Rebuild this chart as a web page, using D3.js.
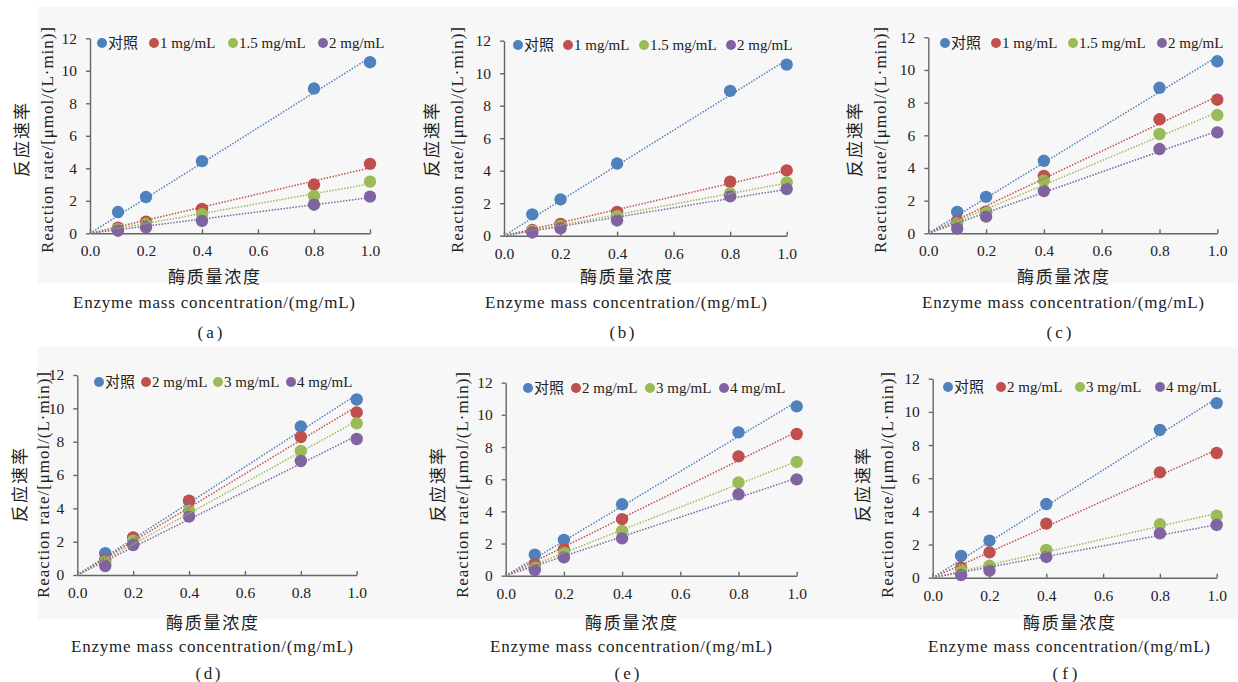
<!DOCTYPE html>
<html>
<head>
<meta charset="utf-8">
<script src="https://cdn.jsdelivr.net/npm/d3@7"></script>
<style>
  body { margin: 0; background: #fff; }
  text { font-family: "Liberation Serif", "Tinos", "Times New Roman", "DejaVu Serif", "Noto Sans CJK SC", serif; fill: #222; }
</style>
</head>
<body>
<div id="chart"></div>
<script>
// enzyme concentrations (x) shared by every panel
const concentrations = [0.1, 0.2, 0.4, 0.8, 1.0];
const xTicks = [0, 0.2, 0.4, 0.6, 0.8, 1.0];
const yTicks = [0, 2, 4, 6, 8, 10, 12];

const legendTop = ["对照", "1 mg/mL", "1.5 mg/mL", "2 mg/mL"];
const legendBottom = ["对照", "2 mg/mL", "3 mg/mL", "4 mg/mL"];
const panelTags = ["(a)", "(b)", "(c)", "(d)", "(e)", "(f)"];

// control, same in all panels
const control = [1.31, 2.23, 4.44, 8.91, 10.53];

const aRed = [0.35, 0.72, 1.50, 3.00, 4.27];
const aGreen = [0.25, 0.57, 1.17, 2.30, 3.18];
const aPurple = [0.16, 0.37, 0.76, 1.76, 2.26];

const bRed = [0.35, 0.72, 1.46, 3.32, 4.02];
const bGreen = [0.30, 0.60, 1.20, 2.60, 3.28];
const bPurple = [0.20, 0.45, 0.94, 2.42, 2.87];

const cRed = [0.76, 1.33, 3.51, 6.98, 8.18];
const cGreen = [0.61, 1.27, 3.22, 6.08, 7.24];
const cPurple = [0.29, 1.02, 2.59, 5.16, 6.18];

const dRed = [0.90, 2.26, 4.46, 8.28, 9.76];
const dGreen = [0.80, 2.06, 3.86, 7.44, 9.10];
const dPurple = [0.54, 1.80, 3.50, 6.84, 8.16];

const eRed = [0.73, 1.64, 3.52, 7.42, 8.81];
const eGreen = [0.50, 1.43, 2.78, 5.80, 7.07];
const ePurple = [0.35, 1.14, 2.32, 5.06, 5.99];

const fRed = [0.60, 1.53, 3.26, 6.35, 7.52];
const fGreen = [0.46, 0.72, 1.67, 3.22, 3.74];
const fPurple = [0.16, 0.42, 1.25, 2.67, 3.18];

const COLORS = ["#4F81BD", "#C0504D", "#9BBB59", "#8064A2"];
const SERIF = '"Liberation Serif", "Tinos", "Times New Roman", "DejaVu Serif", serif';

// where each panel sits on the page
const panels = [
  { series: [control, aRed, aGreen, aPurple], legend: legendTop, x0: 90, x1: 370, yb: 233.3, yt: 38.3, legX: [102, 154, 233, 323], legY: 43, cx: 214, yEn: 47, yCn: 22, row: 0 },
  { series: [control, bRed, bGreen, bPurple], legend: legendTop, x0: 504, x1: 786.7, yb: 235.7, yt: 40.7, legX: [518, 568, 644, 731], legY: 45, cx: 626, yEn: 457, yCn: 432, row: 0 },
  { series: [control, cRed, cGreen, cPurple], legend: legendTop, x0: 928.3, x1: 1217.3, yb: 233.3, yt: 37.3, legX: [945, 996, 1073, 1162], legY: 43, cx: 1063, yEn: 880, yCn: 855, row: 0 },
  { series: [control, dRed, dGreen, dPurple], legend: legendBottom, x0: 77.3, x1: 356.7, yb: 575, yt: 375, legX: [99, 146, 218, 291], legY: 382, cx: 212, yEn: 43, yCn: 20, row: 1 },
  { series: [control, eRed, eGreen, ePurple], legend: legendBottom, x0: 505.7, x1: 796.7, yb: 575.7, yt: 382.7, legX: [528, 576, 650, 724], legY: 388, cx: 631, yEn: 462, yCn: 438, row: 1 },
  { series: [control, fRed, fGreen, fPurple], legend: legendBottom, x0: 932.7, x1: 1216.7, yb: 577.7, yt: 378.7, legX: [948, 1001, 1080, 1160], legY: 387, cx: 1069, yEn: 887, yCn: 863, row: 1 }
];

const ROWS = [
  { bgTop: 7, bgBottom: 283, yMid: 140, cnY: 277, enY: 302, tagY: 332 },
  { bgTop: 347, bgBottom: 619, yMid: 485, cnY: 623, enY: 646, tagY: 673 }
];

const svg = d3.select("#chart").append("svg")
    .attr("width", 1238)
    .attr("height", 682);

ROWS.forEach(r => {
  svg.append("rect")
      .attr("x", 38).attr("y", r.bgTop)
      .attr("width", 1200).attr("height", r.bgBottom - r.bgTop)
      .attr("fill", "#f7f7f7");
});

panels.forEach((p, idx) => {
  const row = ROWS[p.row];
  const g = svg.append("g");

  const x = d3.scaleLinear().domain([0, 1]).range([p.x0, p.x1]);
  const y = d3.scaleLinear().domain([0, 12]).range([p.yb, p.yt]);

  const xAxis = g.append("g")
      .attr("transform", `translate(0, ${p.yb})`)
      .call(d3.axisBottom(x).tickValues(xTicks).tickSizeInner(-4).tickSizeOuter(0)
        .tickPadding(12).tickFormat(d3.format(".1f")));

  const yAxis = g.append("g")
      .attr("transform", `translate(${p.x0}, 0)`)
      .call(d3.axisLeft(y).tickValues(yTicks).tickSizeInner(4).tickSizeOuter(0).tickPadding(9));

  [xAxis, yAxis].forEach(ax => {
    ax.attr("font-family", null);
    ax.select(".domain").attr("stroke", "#666").attr("stroke-width", 1.4);
    ax.selectAll(".tick line").attr("stroke", "#666").attr("stroke-width", 1.4);
    ax.selectAll(".tick text")
        .attr("font-size", 15.5)
        .attr("fill", "#222")
        .style("font-family", SERIF);
  });

  // markers, in series order
  p.series.forEach((vals, si) => {
    g.append("g").selectAll("circle")
      .data(vals)
      .enter().append("circle")
        .attr("cx", (d, i) => x(concentrations[i]))
        .attr("cy", d => y(d))
        .attr("r", 6.2)
        .attr("fill", COLORS[si]);
  });

  // linear trend lines through the origin
  const line = d3.line().x(d => x(d[0])).y(d => y(d[1]));
  p.series.forEach((vals, si) => {
    const slope = d3.sum(vals, (v, i) => v * concentrations[i]) / d3.sum(concentrations, c => c * c);
    g.append("path")
        .attr("d", line([[0, 0], [1, slope]]))
        .attr("fill", "none")
        .attr("stroke", COLORS[si])
        .attr("stroke-width", 1.5)
        .attr("stroke-dasharray", "1.5 1.5");
  });

  // legend
  p.legend.forEach((name, li) => {
    g.append("circle")
        .attr("cx", p.legX[li]).attr("cy", p.legY)
        .attr("r", 5)
        .attr("fill", COLORS[li]);
    g.append("text")
        .attr("x", p.legX[li] + 6).attr("y", p.legY + 5)
        .attr("font-size", 15)
        .attr("fill", "#111")
        .text(name);
  });

  // axis titles
  g.append("text")
      .attr("transform", `translate(${p.yEn}, ${row.yMid}) rotate(-90)`)
      .attr("text-anchor", "middle")
      .attr("dy", "0.35em")
      .attr("font-size", 17)
      .attr("textLength", 226)
      .attr("lengthAdjust", "spacing")
      .text("Reaction rate/[μmol/(L·min)]");

  g.append("text")
      .attr("transform", `translate(${p.yCn}, ${row.yMid}) rotate(-90)`)
      .attr("text-anchor", "middle")
      .attr("dy", "0.35em")
      .attr("font-size", 17)
      .attr("textLength", 74)
      .attr("lengthAdjust", "spacing")
      .text("反应速率");

  g.append("text")
      .attr("x", p.cx).attr("y", row.cnY)
      .attr("text-anchor", "middle")
      .attr("dy", "0.35em")
      .attr("font-size", 17)
      .attr("textLength", 92)
      .attr("lengthAdjust", "spacing")
      .text("酶质量浓度");

  g.append("text")
      .attr("x", p.cx).attr("y", row.enY)
      .attr("text-anchor", "middle")
      .attr("dy", "0.35em")
      .attr("font-size", 17)
      .attr("textLength", 282)
      .attr("lengthAdjust", "spacing")
      .text("Enzyme mass concentration/(mg/mL)");

  g.append("text")
      .attr("x", p.cx - 4).attr("y", row.tagY)
      .attr("text-anchor", "middle")
      .attr("dy", "0.35em")
      .attr("font-size", 17)
      .attr("textLength", 25)
      .attr("lengthAdjust", "spacing")
      .text(panelTags[idx]);
});
</script>
</body>
</html>
